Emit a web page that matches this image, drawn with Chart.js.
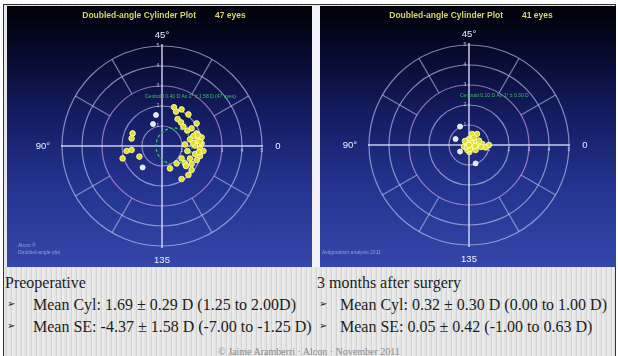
<!DOCTYPE html>
<html>
<head>
<meta charset="utf-8">
<script src="https://cdn.jsdelivr.net/npm/chart.js@4.4.1/dist/chart.umd.min.js"></script>
<style>
  body { margin: 0; width: 618px; height: 356px; overflow: hidden; background: #fff; position: relative; }
  #frame { position: absolute; left: 3px; top: 4px; width: 611px; height: 360px; border: 1px solid #333;
    background: repeating-linear-gradient(90deg, #e4e4e4 0 2px, #d3d3d3 2px 3px, #ebebeb 3px 5px); }
  .panel { position: absolute; top: 6px; height: 261px;
    background: linear-gradient(#000006 0%, #070a2c 18%, #141d62 42%, #23328e 68%, #3447aa 100%); }
  .strip { position: absolute; top: 6px; height: 261px; background: #e6e6ee; }
  .txt { position: absolute; font-family: "Liberation Serif", "Times New Roman", serif; font-size: 16px; color: #1c1c1c; white-space: nowrap; line-height: 18px; }
  .bul { position: absolute; font-family: "DejaVu Sans", sans-serif; font-size: 10px; color: #222; }
  .foot { position: absolute; left: 0; width: 618px; top: 346px; text-align: center; font-family: "Liberation Serif", serif; font-size: 10px; color: #8a8a8a; }
  .tiny { position: absolute; font-family: "Liberation Sans", sans-serif; font-size: 5px; line-height: 7px; color: #8ea0e0; }
</style>
</head>
<body>
<div id="frame"></div>
<div class="strip" style="left:4px;width:3px"></div>
<div class="panel" style="left:7px;width:305px"><canvas id="left" width="305" height="261"></canvas></div>
<div class="strip" style="left:312px;width:8px;background:#f2f2f8"></div>
<div class="panel" style="left:320px;width:296px"><canvas id="right" width="296" height="261"></canvas></div>

<div class="tiny" style="left:18px;top:242px">Alcon &reg;<br>Doubled-angle plot</div>
<div class="tiny" style="left:322px;top:249px">Astigmatism analysis 2011</div>

<div class="txt" style="left:5px;top:274px">Preoperative</div>
<div class="bul" style="left:7px;top:298px">&#10146;</div>
<div class="txt" style="left:33px;top:296px">Mean Cyl: 1.69 ± 0.29 D (1.25 to 2.00D)</div>
<div class="bul" style="left:7px;top:320px">&#10146;</div>
<div class="txt" style="left:33px;top:318px">Mean SE: -4.37 ± 1.58 D (-7.00 to -1.25 D)</div>

<div class="txt" style="left:317px;top:274px">3 months after surgery</div>
<div class="bul" style="left:319px;top:298px">&#10146;</div>
<div class="txt" style="left:340px;top:296px">Mean Cyl: 0.32 ± 0.30 D (0.00 to 1.00 D)</div>
<div class="bul" style="left:319px;top:320px">&#10146;</div>
<div class="txt" style="left:340px;top:318px">Mean SE: 0.05 ± 0.42 (-1.00 to 0.63 D)</div>
<div class="foot">© Jaime Aramberri · Alcon · November 2011</div>

<script>
// doubled-angle plot grid
const ringValues = [1, 2, 3, 4, 5];
const spokeAngles = [30, 60, 120, 150, 210, 240, 300, 330];
const angleLabels = ["0", "45°", "90°", "135"];

// preoperative, 47 eyes (x, y in D, doubled-angle)
const preYellowX = [0.6, 0.98, 0.7, 1.32, 0.78, 0.95, 1.73, 1.07, 1.48, 1.27, 1.73, 1.57, 1.98, 1.4, 1.77, 1.98, 1.15, 1.65, 1.9, 2.07, 1.27, 1.65, 1.9, 1.4, 0.98, 1.73, 0.73, 1.15, 1.48, 0.4, 1.48, 1.32, 0.98, 1.9, -1.47, -1.52, -1.77, -1.52, -1.97, -1.13, 1.55, 1.8, 1.2, 1.85];
const preYellowY = [1.94, 1.83, 1.72, 1.58, 1.35, 1.18, 1.13, 0.97, 0.88, 0.77, 0.63, 0.5, 0.43, 0.33, 0.27, 0.13, 0.08, 0.02, -0.12, -0.25, -0.25, -0.4, -0.5, -0.63, -0.62, -0.7, -0.87, -0.87, -0.9, -1.12, -1.2, -1.45, -1.65, 0.22, 0.63, 0.38, -0.25, -0.2, -0.62, -0.53, 0.15, 0.55, -1.0, -0.3];
const preWhiteX = [-0.3, -0.45, -0.97];
const preWhiteY = [1.55, 1.1, -1.07];
const preCentroid = [0.6, 0.0, 0.9];

// 3 months after surgery, 41 eyes
const postYellowX = [0.15, 0.4, 0, -0.17, -0.25, 0.3, 0.15, 0.42, 0.67, 1.0, 0.83, 0.02, -0.08, 0.33, 0.12, -0.05, 0.5, 0.25, 0.2, -0.1, 0.1, 0.3, -0.2, 0.05, 0.6, 0, 0, 0, 0, 0, 0, 0, 0, 0, 0, 0, 0];
const postYellowY = [0.55, 0.55, 0.3, 0.13, -0.08, 0.1, -0.12, 0, 0.05, 0, -0.12, -0.35, -0.25, -0.25, 0.25, 0.02, 0.22, 0.38, 0, -0.1, 0.1, -0.05, 0.2, -0.2, -0.1, 0, 0, 0, 0, 0, 0, 0, 0, 0, 0, 0, 0];
const postWhiteX = [-0.45, -0.67, -0.45, 0.33];
const postWhiteY = [0.92, 0.3, -0.33, -0.92];
const postCentroid = [0.1, 0.02, 0.2];

function pts(xs, ys) {
  return xs.map((v, i) => ({ x: v, y: ys[i] }));
}

const polarGrid = {
  id: "polarGrid",
  beforeDatasetsDraw(chart, args, o) {
    const { ctx } = chart;
    const sx = chart.scales.x, sy = chart.scales.y;
    const cx = sx.getPixelForValue(0), cy = sy.getPixelForValue(0);
    const k = sx.getPixelForValue(1) - cx;
    ctx.save();
    // rings
    ringValues.forEach((r) => {
      ctx.beginPath();
      ctx.arc(cx, cy, r * k, 0, Math.PI * 2);
      ctx.strokeStyle = r === 3 ? "rgba(215,165,230,0.65)" : "rgba(195,195,240,0.65)";
      ctx.lineWidth = 1.2;
      ctx.stroke();
    });
    // spokes
    ctx.strokeStyle = "rgba(195,195,240,0.6)";
    spokeAngles.forEach((a) => {
      const t = (a * Math.PI) / 180;
      ctx.beginPath();
      ctx.moveTo(cx + 3 * k * Math.cos(t), cy - 3 * k * Math.sin(t));
      ctx.lineTo(cx + 5 * k * Math.cos(t), cy - 5 * k * Math.sin(t));
      ctx.stroke();
    });
    // axes
    ctx.strokeStyle = "rgba(225,225,255,0.88)";
    ctx.lineWidth = 1.5;
    ctx.beginPath();
    ctx.moveTo(cx - 5.05 * k, cy); ctx.lineTo(cx + 5.05 * k, cy);
    ctx.moveTo(cx, cy - 5.1 * k); ctx.lineTo(cx, cy + 5.1 * k);
    ctx.stroke();
    // ring labels
    ctx.fillStyle = "rgba(225,225,255,0.8)";
    ctx.font = "5px Liberation Sans";
    ctx.textAlign = "center";
    ctx.textBaseline = "middle";
    ringValues.forEach((r) => {
      ctx.fillText(String(r), cx - 4, cy - r * k);
      ctx.fillText(String(r), cx + r * k, cy + 5);
    });
    // angle labels
    ctx.fillStyle = "#f0f0ff";
    ctx.font = "9.5px Liberation Sans";
    ctx.fillText(angleLabels[0], cx + 5.8 * k, cy);
    ctx.fillText(angleLabels[1], cx, cy - 5.55 * k);
    ctx.textAlign = "right";
    ctx.fillText(angleLabels[2], cx - 5.6 * k, cy);
    ctx.textAlign = "center";
    ctx.fillText(angleLabels[3], cx, cy + 5.7 * k);
    // centroid
    const c = o.centroid;
    ctx.strokeStyle = "#34c058";
    ctx.lineWidth = 1.3;
    ctx.setLineDash([3, 2]);
    ctx.beginPath();
    ctx.arc(sx.getPixelForValue(c[0]), sy.getPixelForValue(c[1]), c[2] * k, 0, Math.PI * 2);
    ctx.stroke();
    ctx.setLineDash([]);
    ctx.fillStyle = "#3cc060";
    ctx.font = "5px Liberation Sans";
    ctx.textAlign = "left";
    ctx.fillText(o.note, sx.getPixelForValue(o.noteAt[0]), sy.getPixelForValue(o.noteAt[1]));
    // title
    ctx.fillStyle = "#d8d270";
    ctx.font = "bold 8.5px Liberation Sans";
    ctx.textAlign = "center";
    ctx.fillText(o.title, cx + 2, 10);
    ctx.restore();
  },
};

function makeChart(id, yx, yy, wx, wy, opts, pad) {
  new Chart(document.getElementById(id), {
    type: "scatter",
    data: {
      datasets: [
        { data: pts(wx, wy), backgroundColor: "#e6e6f2", borderColor: "#ffffff", borderWidth: 0.8, pointRadius: 2.5 },
        { data: pts(yx, yy), backgroundColor: "#e2dd2a", borderColor: "rgba(255,255,190,0.95)", borderWidth: 0.9, pointRadius: 2.8 },
      ],
    },
    options: {
      responsive: false,
      animation: false,
      layout: { padding: pad },
      scales: {
        x: { type: "linear", min: -5.5, max: 5.5, display: false },
        y: { type: "linear", min: -5.5, max: 5.5, display: false },
      },
      plugins: { legend: { display: false }, tooltip: { enabled: false }, polarGrid: opts },
    },
    plugins: [polarGrid],
  });
}

makeChart("left", preYellowX, preYellowY, preWhiteX, preWhiteY,
  { title: "Doubled-angle Cylinder Plot        47 eyes", centroid: preCentroid,
    note: "Centroid 0.40 D Ax 2° ± 1.58 D (47 eyes)", noteAt: [-0.85, 2.45] },
  { left: 45, right: 40, top: 30, bottom: 11 });

makeChart("right", postYellowX, postYellowY, postWhiteX, postWhiteY,
  { title: "Doubled-angle Cylinder Plot        41 eyes", centroid: postCentroid,
    note: "Centroid 0.10 D Ax 1° ± 0.30 D", noteAt: [-0.45, 2.45] },
  { left: 39, right: 37, top: 29, bottom: 12 });
</script>
</body>
</html>
